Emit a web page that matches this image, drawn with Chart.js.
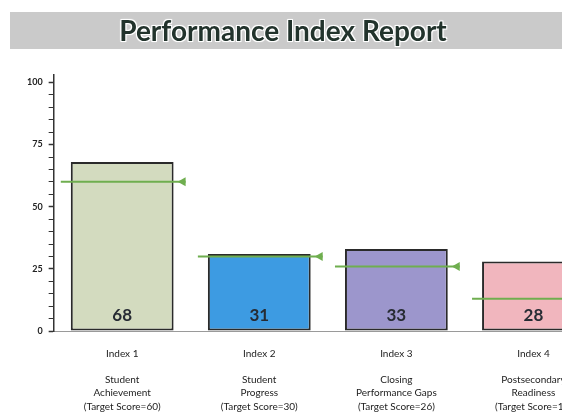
<!DOCTYPE html>
<html>
<head>
<meta charset="utf-8">
<script src="https://cdn.jsdelivr.net/npm/chart.js@4"></script>
<style>
  html, body { margin: 0; padding: 0; background: #fff; overflow: hidden; }
  body { width: 562px; height: 415px; position: relative; }
  .banner {
    position: absolute; left: 10px; top: 12px; width: 620px; height: 37px;
    background: #cacaca;
  }
  .title {
    position: absolute; left: 0; top: 11px; width: 566px; height: 38px;
    line-height: 38px; text-align: center;
    font-family: Lato, sans-serif; font-weight: 700; font-size: 28px; color: #22332c;
    text-shadow: -1px -1px 0 #fff, 1px -1px 0 #fff, -1px 1px 0 #fff, 1px 1px 0 #fff, 0 0 3px #fff;
  }
  .wrap { position: absolute; left: 0; top: 0; width: 608px; height: 431px; }
</style>
</head>
<body>
<div class="wrap"><canvas class="perf-chart"></canvas></div>
<div class="banner"></div>
<div class="title">Performance Index Report</div>
<script>
const categories = [
  ["Index 1", "", "Student", "Achievement", "(Target Score=60)"],
  ["Index 2", "", "Student", "Progress", "(Target Score=30)"],
  ["Index 3", "", "Closing", "Performance Gaps", "(Target Score=26)"],
  ["Index 4", "", "Postsecondary", "Readiness", "(Target Score=13)"],
];
const scores = [68, 31, 33, 28];
const targets = [60, 30, 26, 13];
const barColors = ["#d3dbbf", "#3d9be2", "#9c96cc", "#f1b6be"];
const yTickLabels = [0, 25, 50, 75, 100];
const yMinorStep = 5;

// draws target line + arrow and the score inside each bar
const markers = {
  id: "markers",
  afterDatasetsDraw(chart) {
    const ctx = chart.ctx;
    const y = chart.scales.y;
    const bars = chart.getDatasetMeta(0).data;
    ctx.save();
    bars.forEach((bar, i) => {
      const half = bar.width / 2;
      const ty = y.getPixelForValue(targets[i]);
      const right = bar.x + half + 12;
      ctx.strokeStyle = "#6fae4f";
      ctx.lineWidth = 2;
      ctx.beginPath();
      ctx.moveTo(bar.x - half - 10, ty);
      ctx.lineTo(right, ty);
      ctx.stroke();
      ctx.fillStyle = "#6fae4f";
      ctx.beginPath();
      ctx.moveTo(right - 8, ty);
      ctx.lineTo(right, ty - 4.5);
      ctx.lineTo(right, ty + 4.5);
      ctx.closePath();
      ctx.fill();

      ctx.fillStyle = "#262b33";
      ctx.font = "bold 17px Lato, sans-serif";
      ctx.textAlign = "center";
      ctx.textBaseline = "middle";
      ctx.fillText(scores[i], bar.x, y.getPixelForValue(0) - 15);
    });
    ctx.restore();
  },
};

new Chart(document.querySelector(".perf-chart"), {
  type: "bar",
  data: {
    labels: categories,
    datasets: [
      {
        data: scores,
        backgroundColor: barColors,
        borderColor: "#2a2a2a",
        borderWidth: 2,
        borderSkipped: false,
        barPercentage: 0.75,
        categoryPercentage: 1,
      },
    ],
  },
  options: {
    responsive: true,
    maintainAspectRatio: false,
    animation: false,
    layout: { padding: { top: 75, left: 21, right: 6, bottom: 2 } },
    plugins: {
      legend: { display: false },
      tooltip: { enabled: false },
    },
    scales: {
      x: {
        grid: { display: false, drawTicks: false },
        border: { color: "#9a9a9a", width: 1 },
        ticks: {
          color: "#222",
          font: { family: "Lato, sans-serif", size: 10, lineHeight: 1.32 },
          padding: 16,
          maxRotation: 0,
          autoSkip: false,
        },
      },
      y: {
        min: 0,
        max: 103,
        afterBuildTicks: (axis) => {
          const last = yTickLabels[yTickLabels.length - 1];
          const ticks = [];
          for (let v = 0; v <= last; v += yMinorStep) ticks.push({ value: v });
          axis.ticks = ticks;
        },
        grid: {
          drawOnChartArea: false,
          drawTicks: true,
          tickLength: 5,
          tickColor: "#333",
          tickWidth: (c) => (yTickLabels.includes(c.tick.value) ? 1.5 : 1),
        },
        border: { color: "#333", width: 1.5 },
        ticks: {
          autoSkip: false,
          color: "#222",
          font: { family: "Lato, sans-serif", size: 9, weight: "bold" },
          padding: 6,
          callback: (v) => (yTickLabels.includes(v) ? v : ""),
        },
      },
    },
  },
  plugins: [markers],
});
</script>
</body>
</html>
